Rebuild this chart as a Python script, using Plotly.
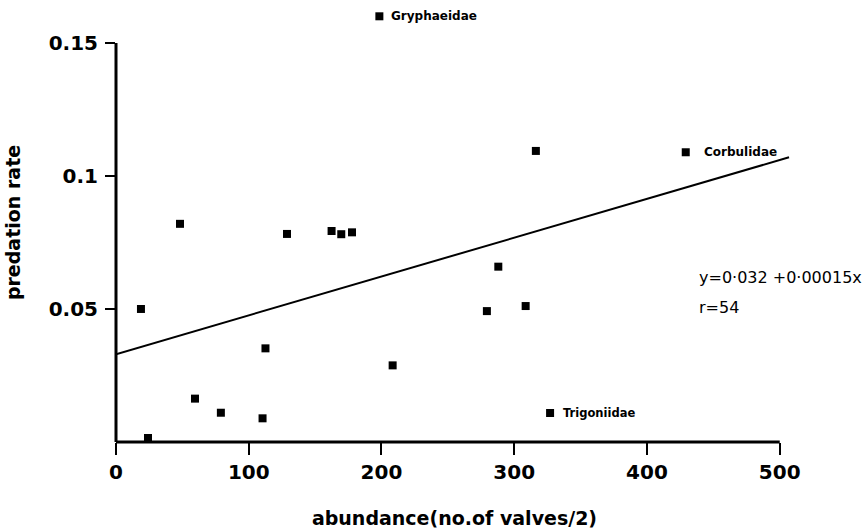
import plotly.graph_objects as go

# Data
abundance = [18.8, 24.1, 48.2, 59.5, 79.0, 110.4, 112.6, 128.8, 162.4, 169.7,
             177.8, 198.4, 208.4, 279.4, 288.0, 308.6, 316.3, 327.0, 429.2]
predation = [0.050, 0.0015, 0.082, 0.0163, 0.011, 0.0089, 0.0352, 0.0782, 0.0793, 0.0781,
             0.0788, 0.160, 0.0288, 0.0492, 0.0659, 0.0511, 0.1094, 0.0109, 0.1089]

labelled_names = ["Gryphaeidae", "Corbulidae", "Trigoniidae"]
labelled_x = [198.4, 429.2, 327.0]
labelled_y = [0.160, 0.1089, 0.0109]
labelled_font = [12, 12, 11.5]
labelled_shift = [10, 16, 11]

fit_x = [0, 507]
fit_y = [0.033, 0.107]

x_ticks = [0, 100, 200, 300, 400, 500]
y_ticks = [0.05, 0.1, 0.15]
y_ticktext = ["0.05", "0.1", "0.15"]

equation_text = "y=0·032 +0·00015x"
r_text = "r=54"

FONT = "DejaVu Sans"

fig = go.Figure()
fig.add_trace(go.Scatter(
    x=fit_x, y=fit_y, mode="lines",
    line=dict(color="black", width=2), showlegend=False, hoverinfo="skip"))
fig.add_trace(go.Scatter(
    x=abundance, y=predation, mode="markers",
    marker=dict(symbol="square", size=8, color="black"),
    cliponaxis=False, showlegend=False))

for name, x, y, fs, sh in zip(labelled_names, labelled_x, labelled_y, labelled_font, labelled_shift):
    fig.add_annotation(x=x, y=y, text=name, showarrow=False, xanchor="left",
                       xshift=sh, font=dict(family=FONT, size=fs, color="black", weight="bold"))

fig.add_annotation(x=437.5, y=0.0617, text=equation_text, showarrow=False, xanchor="left",
                   font=dict(family=FONT, size=16, color="black"))
fig.add_annotation(x=437.5, y=0.0504, text=r_text, showarrow=False, xanchor="left",
                   font=dict(family=FONT, size=16, color="black"))

# axis lines limited to the labelled extent
fig.add_shape(type="line", xref="x", yref="y domain", x0=0, x1=x_ticks[-1], y0=0, y1=0,
              line=dict(color="black", width=3))
fig.add_shape(type="line", xref="x domain", yref="y", x0=0, x1=0, y0=0, y1=y_ticks[-1],
              line=dict(color="black", width=3))

fig.update_layout(
    width=865, height=529,
    margin=dict(l=116, r=72, t=3, b=87),
    plot_bgcolor="white", paper_bgcolor="white",
    xaxis=dict(range=[0, 510], tickvals=x_ticks, showgrid=False, zeroline=False, showline=False,
               ticks="outside", ticklen=12, tickwidth=2, tickcolor="black",
               tickfont=dict(family=FONT, size=20, color="black", weight="bold"),
               title=dict(text="abundance(no.of valves/2)", standoff=28,
                          font=dict(family=FONT, size=19, color="black", weight="bold"))),
    yaxis=dict(range=[0, 0.165], tickvals=y_ticks, ticktext=y_ticktext, showgrid=False,
               zeroline=False, showline=False,
               ticks="outside", ticklen=10, tickwidth=2, tickcolor="black",
               ticklabelstandoff=3,
               tickfont=dict(family=FONT, size=20, color="black", weight="bold"),
               title=dict(text="predation rate", standoff=22,
                          font=dict(family=FONT, size=19, color="black", weight="bold"))),
)

fig.write_html("out.html")
